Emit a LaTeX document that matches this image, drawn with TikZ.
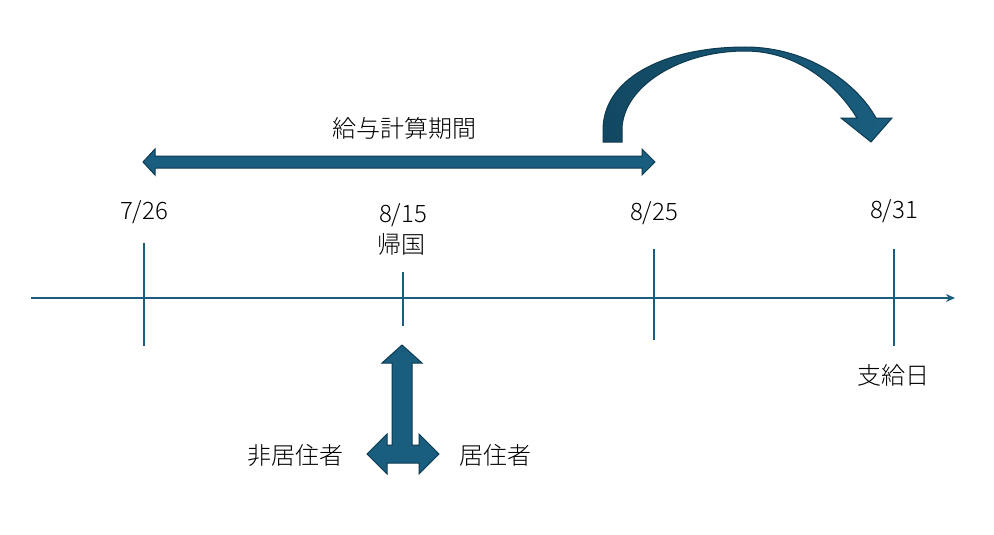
\documentclass[tikz,border=0pt]{standalone}
\usepackage{fontspec}
\setmainfont{Noto Sans CJK JP}[UprightFont=* Light]
\usetikzlibrary{arrows.meta}

\definecolor{pfeilblau}{RGB}{26,94,127}
\definecolor{pfeilrand}{RGB}{14,58,80}
\definecolor{pfeildunkel}{RGB}{18,72,98}

\tikzset{
  beschriftung/.style={inner sep=0pt, font=\fontsize{24}{28}\selectfont},
  strich/.style={draw=pfeilblau, line width=2pt},
  blockpfeil/.style={fill=pfeilblau, draw=pfeilrand, line width=1pt, line join=miter}
}

\begin{document}
\begin{tikzpicture}[x=1pt, y=-1pt]
        \useasboundingbox (0,0) rectangle (994,535);

        % Achse
        \coordinate (achseA) at (31,298);
        \coordinate (achseE) at (955,298);
        \draw[strich, -{Stealth[length=9pt,width=8pt]}] (achseA) -- (achseE);

        % Striche und Daten
        \foreach \name/\x/\oben/\unten/\datum/\ty in {
            a/144/243/346/7\slash26/212,
            b/403/272/326/8\slash15/215,
            c/654/249/340/8\slash25/213,
            d/894/249/346/8\slash31/211} {
            \coordinate (o\name) at (\x,\oben);
            \coordinate (u\name) at (\x,\unten);
            \draw[strich] (o\name) -- (u\name); % Striche
            \node[beschriftung] (t\name) at (\x,\ty) {\datum}; % Datum darueber
        }
        \node[beschriftung] (heim) at (401,244) {帰国};
        \node[beschriftung] (zahltag) at (893,375) {支給日};

        % Zeitraum mit Doppelpfeil
        \node[beschriftung] (zeitraum) at (404,128) {給与計算期間};
        \draw[blockpfeil] (143,162) -- (155,149) -- (155,156) -- (642,156) -- (642,149)
            -- (655,162) -- (642,175) -- (642,168) -- (155,168) -- (155,175) -- cycle;

        % gebogener Pfeil zum Zahltag
        \draw[draw=pfeilrand, line width=1pt, left color=pfeildunkel, right color=pfeilblau]
            (603,142) -- (603,128) .. controls (605,75) and (670,47) .. (745,47)
            .. controls (810,47) and (858,85) .. (876,118) -- (892,118) -- (871,142)
            -- (841,118) -- (857,118) .. controls (836,84) and (797,51) .. (745,51)
            .. controls (680,51) and (624,86) .. (622,128) -- (622,142) -- cycle;

        % Wohnsitz-Pfeil
        \draw[blockpfeil] (402,345) -- (422,363) -- (412,363) -- (412,445) -- (419,445)
            -- (419,434) -- (439,454) -- (419,474) -- (419,463) -- (387,463) -- (387,474)
            -- (367,454) -- (387,434) -- (387,445) -- (392,445) -- (392,363) -- (382,363) -- cycle;
        \node[beschriftung] (nicht) at (295,455) {非居住者};
        \node[beschriftung] (ansaessig) at (495,455) {居住者};
    \end{tikzpicture}
\end{document}
